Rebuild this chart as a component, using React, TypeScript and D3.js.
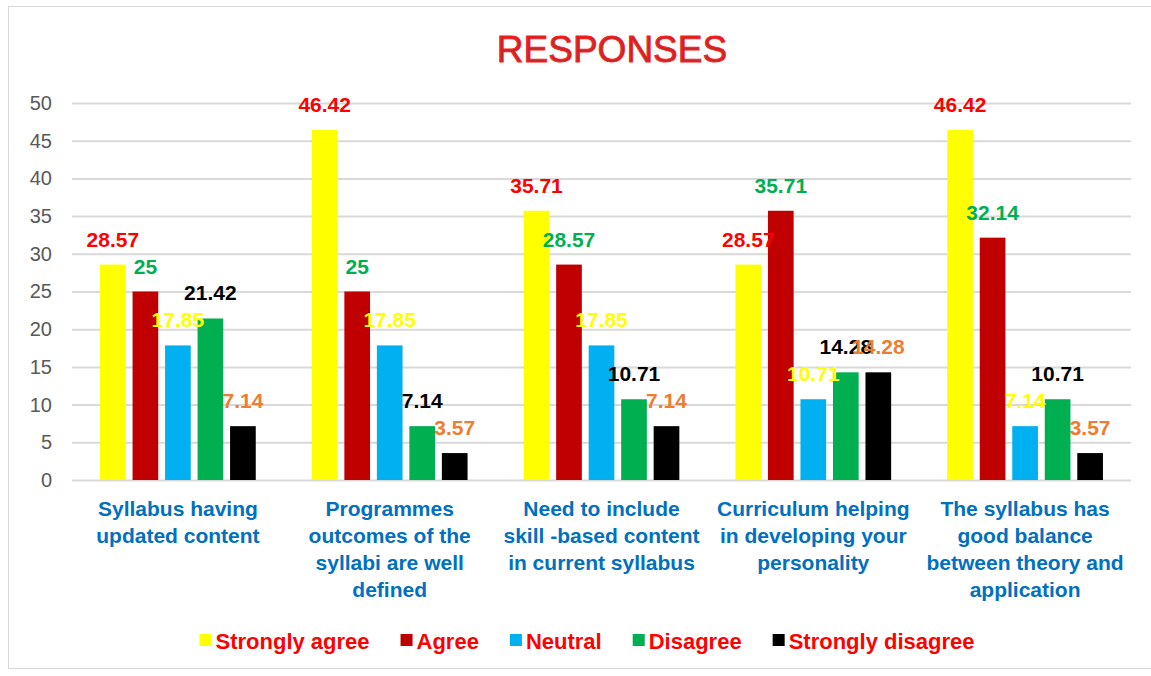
import * as d3 from 'd3'
import { useRef, useEffect } from 'react'

const categories = [
  ['Syllabus having', 'updated content'],
  ['Programmes', 'outcomes of the', 'syllabi are well', 'defined'],
  ['Need to include', 'skill -based content', 'in current syllabus'],
  ['Curriculum helping', 'in developing your', 'personality'],
  ['The syllabus has', 'good balance', 'between theory and', 'application'],
]

const seriesNames = ['Strongly agree', 'Agree', 'Neutral', 'Disagree', 'Strongly disagree']
const stronglyAgree = [28.57, 46.42, 35.71, 28.57, 46.42]
const agree = [25, 25, 28.57, 35.71, 32.14]
const neutral = [17.85, 17.85, 17.85, 10.71, 7.14]
const disagree = [21.42, 7.14, 10.71, 14.28, 10.71]
const stronglyDisagree = [7.14, 3.57, 7.14, 14.28, 3.57]
const yTicks = [0, 5, 10, 15, 20, 25, 30, 35, 40, 45, 50]

const barColors = ['#FFFF00', '#C00000', '#00B0F0', '#00B050', '#000000']
const labelColors = ['#FF0000', '#00B050', '#FFFF00', '#000000', '#ED7D31']

const W = 1151
const H = 676
const margin = { top: 103, right: 20, bottom: 196, left: 72 }

export default function App() {
  const svgRef = useRef<SVGSVGElement>(null)

  useEffect(() => {
    document.body.style.margin = '0'
    const svg = d3.select(svgRef.current)
    svg.selectAll('*').remove()

    const values = [stronglyAgree, agree, neutral, disagree, stronglyDisagree]
    const idx = categories.map((_, i) => i)

    const x0 = d3.scaleBand<number>()
      .domain(idx)
      .range([margin.left, W - margin.right])
    // grouped bars: step ~32.5px, bar ~25.7px
    const x1 = d3.scaleBand<number>()
      .domain(seriesNames.map((_, i) => i))
      .range([0, 155.7])
      .paddingInner(0.21)
    const y = d3.scaleLinear()
      .domain([0, 50])
      .range([H - margin.bottom, margin.top])

    // frame
    svg.append('rect')
      .attr('x', 8.5).attr('y', 6.5)
      .attr('width', 1160).attr('height', 662)
      .attr('fill', '#fff')
      .attr('stroke', '#D9D9D9')

    svg.append('text')
      .attr('x', 612).attr('y', 62)
      .attr('text-anchor', 'middle')
      .attr('font-family', 'Liberation Sans, Arial, sans-serif')
      .attr('font-size', 37)
      .attr('fill', '#C62828')
      .attr('stroke', '#FF1A1A')
      .attr('stroke-width', 0.9)
      .text('RESPONSES')

    // grid + y labels
    const yAxis = d3.axisLeft(y)
      .tickValues(yTicks)
      .tickSize(-(W - margin.right - margin.left))
      .tickPadding(20)
    const gy = svg.append('g')
      .attr('transform', `translate(${margin.left},0)`)
      .call(yAxis)
    gy.select('.domain').remove()
    gy.selectAll('line').attr('stroke', '#D9D9D9').attr('stroke-width', 2)
    gy.selectAll('text')
      .attr('font-family', 'Liberation Sans, Arial, sans-serif')
      .attr('font-size', 20)
      .attr('fill', '#595959')

    const bw = x1.bandwidth()
    const groupW = x1.range()[1]

    const groups = svg.append('g').selectAll('g')
      .data(idx)
      .enter()
      .append('g')
      .attr('transform', (i) => `translate(${x0(i)! + (x0.bandwidth() - groupW) / 2},0)`)

    groups.selectAll('rect')
      .data((i) => values.map((s, k) => ({ k, v: s[i] })))
      .enter()
      .append('rect')
      .attr('x', (d) => x1(d.k)!)
      .attr('y', (d) => y(d.v))
      .attr('width', bw)
      .attr('height', (d) => y(0) - y(d.v))
      .attr('fill', (d) => barColors[d.k])

    groups.selectAll('text')
      .data((i) => values.map((s, k) => ({ k, v: s[i] })))
      .enter()
      .append('text')
      .attr('x', (d) => x1(d.k)! + bw / 2)
      .attr('y', (d) => y(d.v) - 18)
      .attr('text-anchor', 'middle')
      .attr('font-family', 'Liberation Sans, Arial, sans-serif')
      .attr('font-weight', 'bold')
      .attr('font-size', 21)
      .attr('fill', (d) => labelColors[d.k])
      .text((d) => String(d.v))

    // category labels
    const cat = svg.append('g').selectAll('text')
      .data(idx)
      .enter()
      .append('text')
      .attr('text-anchor', 'middle')
      .attr('font-family', 'Liberation Sans, Arial, sans-serif')
      .attr('font-weight', 'bold')
      .attr('font-size', 21)
      .attr('fill', '#0070C0')
    cat.selectAll('tspan')
      .data((i) => categories[i].map((t) => ({ t, i })))
      .enter()
      .append('tspan')
      .attr('x', (d) => x0(d.i)! + x0.bandwidth() / 2)
      .attr('y', (_, j) => 516 + j * 27)
      .text((d) => d.t)

    // legend
    const lg = svg.append('g')
    let cx = 0
    seriesNames.forEach((name, k) => {
      const item = lg.append('g').attr('transform', `translate(${cx},0)`)
      item.append('rect')
        .attr('x', 0).attr('y', -7)
        .attr('width', 12).attr('height', 12)
        .attr('fill', barColors[k])
      const t = item.append('text')
        .attr('x', 16).attr('y', 8)
        .attr('font-family', 'Liberation Sans, Arial, sans-serif')
        .attr('font-weight', 'bold')
        .attr('font-size', 22)
        .attr('fill', '#FF0000')
        .text(name)
      const tw = (t.node() as SVGTextElement).getComputedTextLength()
      cx += 16 + tw + 31
    })
    const total = cx - 31
    lg.attr('transform', `translate(${587 - total / 2},641)`)
  }, [])

  return <svg ref={svgRef} width={W} height={H} style={{ display: 'block' }}></svg>
}
